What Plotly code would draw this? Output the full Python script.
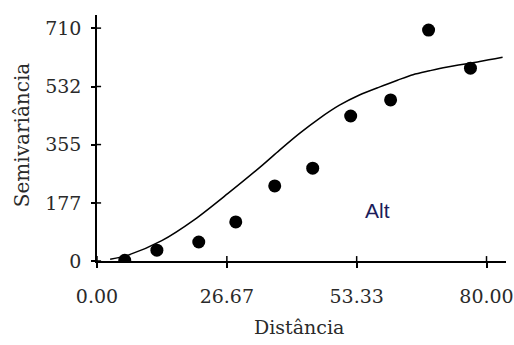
import plotly.graph_objects as go

# experimental semivariogram points
dist = [5.7, 12.3, 20.9, 28.5, 36.5, 44.3, 52.1, 60.3, 68.1, 76.7]
semiv = [2, 33, 58, 119, 229, 283, 442, 491, 704, 588]

# fitted model curve
model_h = [2.7, 6.4, 13.3, 20.1, 26.9, 33.8, 37.5, 41.6, 45.7, 49.8, 53.9, 58.1, 61.7, 64.9, 68.3, 71.7, 78.6, 83.3]
model_v = [5, 18, 62, 127, 206, 290, 338, 389, 435, 475, 506, 531, 551, 568, 580, 591, 608, 621]

xticks = [0, 26.67, 53.33, 80]
xlabels = ["0.00", "26.67", "53.33", "80.00"]
yticks = [0, 177, 355, 532, 710]
ylabels = ["0", "177", "355", "532", "710"]

FONT = "DejaVu Serif"
TXT = "#2a2a2a"

fig = go.Figure()
fig.add_trace(go.Scatter(x=model_h, y=model_v, mode="lines",
                         line=dict(color="black", width=1.5, shape="spline", smoothing=0.8),
                         showlegend=False, hoverinfo="skip"))
fig.add_trace(go.Scatter(x=dist, y=semiv, mode="markers", marker=dict(color="black", size=13),
                         showlegend=False))

axis_common = dict(showgrid=False, zeroline=False, showline=True, linecolor="black", linewidth=1.5,
                   tickcolor="black", tickwidth=1.5, ticks="outside", automargin=False,
                   tickfont=dict(family=FONT, size=19, color=TXT))

shapes = []
for xv in xticks:
    shapes.append(dict(type="line", xref="x", yref="paper", x0=xv, x1=xv, y0=0, y1=0.02,
                       line=dict(color="black", width=1.5)))
for yv in yticks:
    shapes.append(dict(type="line", xref="paper", yref="y", x0=0, x1=0.01, y0=yv, y1=yv,
                       line=dict(color="black", width=1.5)))

fig.update_layout(
    width=514, height=345,
    margin=dict(l=97, r=8, t=15, b=84),
    paper_bgcolor="white", plot_bgcolor="white",
    font=dict(family=FONT, size=19, color=TXT),
    xaxis=dict(range=[0, 84], tickvals=xticks, ticktext=xlabels, ticklen=5, ticklabelstandoff=12,
               **axis_common),
    yaxis=dict(range=[0, 750], tickvals=yticks, ticktext=ylabels, ticklen=4, ticklabelstandoff=6,
               **axis_common),
    shapes=shapes,
    annotations=[
        dict(text="Alt", x=57.6, y=155, xref="x", yref="y", showarrow=False,
             font=dict(family="Liberation Sans", size=21, color="#1c1c5a")),
        dict(text="Distância", x=0.495, y=-0.268, xref="paper", yref="paper", yanchor="middle",
             showarrow=False, font=dict(family=FONT, size=19, color=TXT)),
        dict(text="Semivariância", x=-0.183, y=0.512, xref="paper", yref="paper", textangle=-90,
             xanchor="center", yanchor="middle",
             showarrow=False, font=dict(family=FONT, size=20, color=TXT)),
    ],
)

fig.write_html("out.html")
